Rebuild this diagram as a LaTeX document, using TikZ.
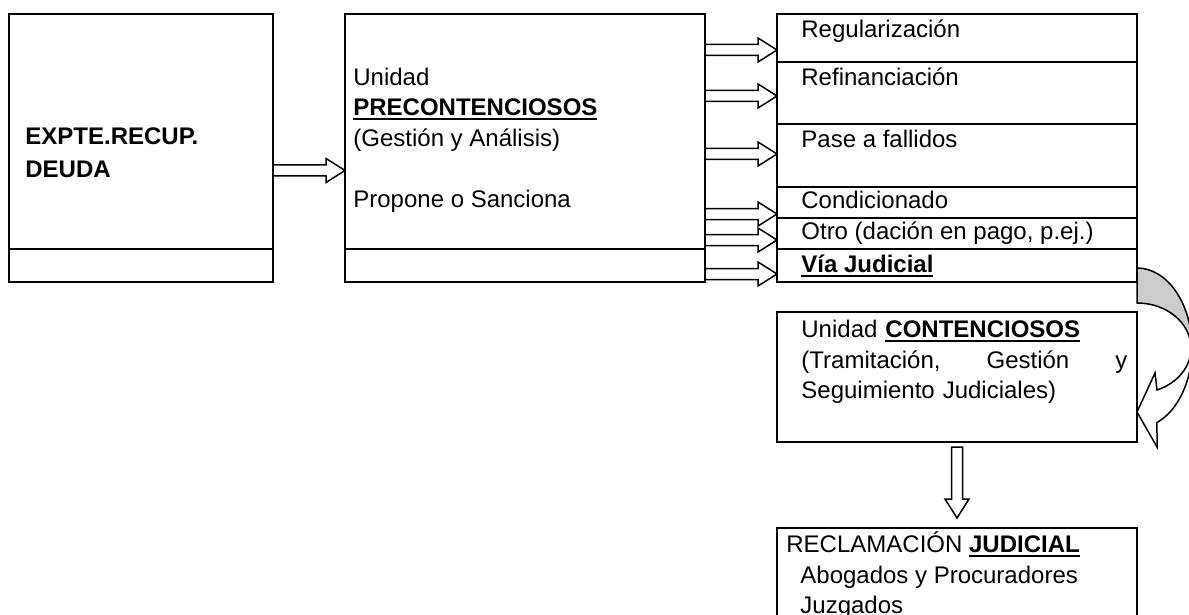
\documentclass[tikz,border=0pt]{standalone}
\usepackage{fontspec}
\setmainfont{Liberation Sans}
\usetikzlibrary{calc}
\newsavebox{\cajasub}
\newcommand{\subrayado}[1]{\sbox{\cajasub}{#1}\rlap{\rule[-2.2pt]{\wd\cajasub}{1.1pt}}\usebox{\cajasub}}
\newcommand{\alto}{\rule{0pt}{12pt}}
\begin{document}
\begin{tikzpicture}[
		x=0.5pt, y=-0.5pt,
		caja/.style={draw, line width=1pt, inner sep=0pt, outer sep=0pt, anchor=north west},
		texto/.style={inner sep=0pt, anchor=north west, align=left, font=\fontsize{12}{15.3}\selectfont},
		hueca/.style={draw, fill=white, line width=0.75pt, to path={
				($(\tikztostart)!2.75pt!90:(\tikztotarget)$) --
				($(\tikztotarget)!9.5pt!(\tikztostart)!2.75pt!90:(\tikztotarget)$) --
				($(\tikztotarget)!9.5pt!(\tikztostart)!6pt!90:(\tikztotarget)$) --
				(\tikztotarget) --
				($(\tikztotarget)!9.5pt!(\tikztostart)!6pt!-90:(\tikztotarget)$) --
				($(\tikztotarget)!9.5pt!(\tikztostart)!2.75pt!-90:(\tikztotarget)$) --
				($(\tikztostart)!2.75pt!-90:(\tikztotarget)$) -- cycle}}
	]
	\useasboundingbox (0,0) rectangle (1189,615);
	% Expediente
	\node[caja, minimum width=132pt, minimum height=117.5pt] (expte) at (9,14) {};
	\node[caja, minimum width=132pt, minimum height=16.5pt] (exptebajo) at (expte.south west) {};
	\node[texto, font=\fontsize{12}{16.6}\selectfont] (txtexpte) at (25,120) {\alto\textbf{EXPTE.RECUP.}\\\textbf{DEUDA}};
	% Unidad precontenciosos
	\node[caja, minimum width=180pt, minimum height=117.5pt] (pre) at (345,14) {};
	\node[caja, minimum width=180pt, minimum height=16.5pt] (prebajo) at (pre.south west) {};
	\node[texto] (txtpre) at (353,61) {\alto Unidad\\\textbf{\subrayado{PRECONTENCIOSOS}}\\(Gestión y Análisis)\\[15.3pt]Propone o Sanciona};
	% Resultados
	\node[caja, minimum width=180pt, minimum height=24pt] (reg) at (777,14) {};
	\node[caja, minimum width=180pt, minimum height=31pt] (ref) at (reg.south west) {};
	\node[caja, minimum width=180pt, minimum height=31.5pt] (fal) at (ref.south west) {};
	\node[caja, minimum width=180pt, minimum height=15.5pt] (cond) at (fal.south west) {};
	\node[caja, minimum width=180pt, minimum height=15.5pt] (otro) at (cond.south west) {};
	\node[caja, minimum width=180pt, minimum height=16.5pt] (via) at (otro.south west) {};
	\node[texto] (txtreg) at (801,13) {\alto Regularización};
	\node[texto] (txtref) at (801,61) {\alto Refinanciación};
	\node[texto] (txtfal) at (801,123) {\alto Pase a fallidos};
	\node[texto] (txtcond) at (801,184) {\alto Condicionado};
	\node[texto] (txtotro) at (801,215) {\alto Otro (dación en pago, p.ej.)};
	\node[texto] (txtvia) at (801,248) {\alto\textbf{\subrayado{Vía Judicial}}};
	% Unidad contenciosos
	\node[caja, minimum width=180pt, minimum height=65pt] (cont) at (777,312) {};
	\node[texto, text width=163pt] (txtcont) at (801,313) {\alto Unidad \textbf{\subrayado{CONTENCIOSOS}}\\(Tramitación,\hfill Gestión\hfill y\\Seguimiento Judiciales)};
	% Reclamacion judicial
	\node[caja, minimum width=180pt, minimum height=70pt] (recl) at (777,528) {};
	\node[texto] (txtrecl) at (786,528) {\alto RECLAMACIÓN \textbf{\subrayado{JUDICIAL}}\\\hspace*{7pt}Abogados y Procuradores\\\hspace*{7pt}Juzgados};
	% Flechas huecas
	\draw[hueca] (expte.east |- 0,170.5) to (pre.west |- 0,170.5);
	\draw[hueca] (pre.east |- 0,50) to (reg.west |- 0,50);
	\draw[hueca] (pre.east |- 0,96) to (ref.west |- 0,96);
	\draw[hueca] (pre.east |- 0,154) to (fal.west |- 0,154);
	\draw[hueca] (pre.east |- 0,214) to (cond.west |- 0,214);
	\draw[hueca] (pre.east |- 0,240) to (otro.west |- 0,240);
	\draw[hueca] (pre.east |- 0,274) to (via.west |- 0,274);
	\draw[hueca] ([yshift=-2.5pt]cont.south) to ([yshift=5pt]recl.north);
	% Flecha curva
	\filldraw[fill=black!20, line width=0.75pt] (via.east |- 0,268) arc[start angle=-90, end angle=0, x radius=55, y radius=80] -- ++(-1,0) arc[start angle=0, end angle=-90, x radius=54, y radius=45] -- cycle;
	\filldraw[fill=white, line width=0.75pt] (1192,348) arc[start angle=0, end angle=68.7, x radius=55, y radius=80] -- (1157,447) -- (cont.east |- 0,412) -- (1155,373) -- (1157,390) arc[start angle=68.3, end angle=0, x radius=54, y radius=45] -- cycle;
\end{tikzpicture}
\end{document}
